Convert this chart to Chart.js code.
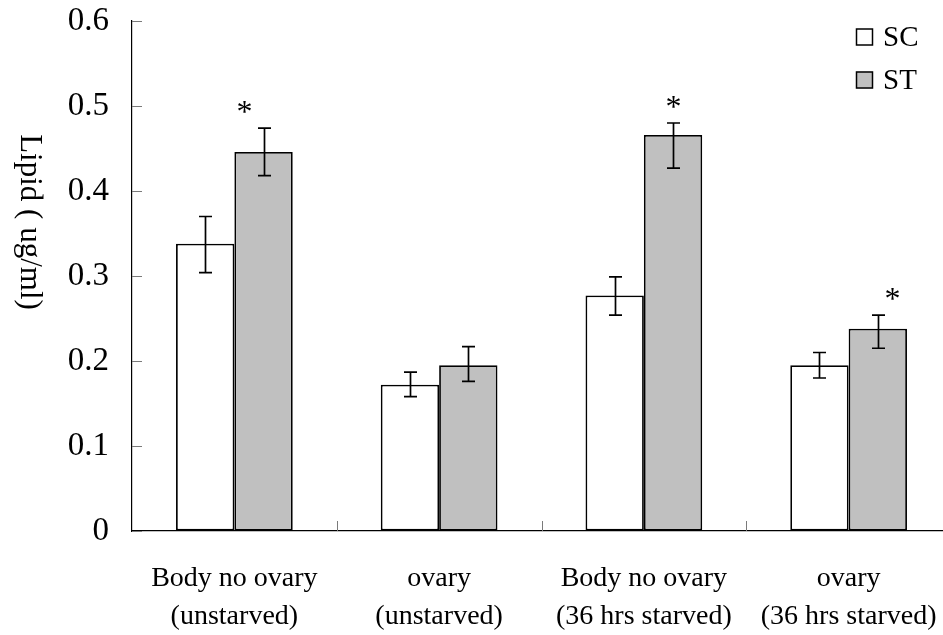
<!DOCTYPE html>
<html>
<head>
<meta charset="utf-8">
<script src="https://cdn.jsdelivr.net/npm/chart.js@4.4.1/dist/chart.umd.min.js"></script>
<style>
  html, body { margin: 0; padding: 0; background: #ffffff; overflow: hidden; }
  #wrap { width: 951px; height: 635px; }
</style>
</head>
<body>
<div id="wrap"><canvas id="c" width="951" height="635"></canvas></div>
<script>
// ---- data ----
const categories = [
  ['Body no ovary', '(unstarved)'],
  ['ovary', '(unstarved)'],
  ['Body no ovary', '(36 hrs starved)'],
  ['ovary', '(36 hrs starved)']
];
const seriesNames = ['SC', 'ST'];
const scValues = [0.338, 0.172, 0.277, 0.195];
const stValues = [0.446, 0.195, 0.466, 0.238];
const scErrPlus  = [0.032, 0.015, 0.022, 0.015];
const scErrMinus = [0.034, 0.014, 0.023, 0.015];
const stErrPlus  = [0.028, 0.022, 0.014, 0.016];
const stErrMinus = [0.028, 0.019, 0.039, 0.023];
const stSignificant = [true, false, true, true];
const yTickValues = [0, 0.1, 0.2, 0.3, 0.4, 0.5, 0.6];
const yTitle = 'Lipid ( ug/ml)';

const FONT = '"Liberation Serif", "Times New Roman", serif';

const errorBarsPlugin = {
  id: 'errorBars',
  afterDatasetsDraw(chart, args, opts) {
    const ctx = chart.ctx;
    const y = chart.scales.y;
    ctx.save();
    ctx.strokeStyle = '#000';
    ctx.lineWidth = 1.7;
    chart.data.datasets.forEach((ds, d) => {
      const meta = chart.getDatasetMeta(d);
      meta.data.forEach((el, i) => {
        const v = ds.data[i];
        const top = y.getPixelForValue(v + ds.errPlus[i]);
        const bot = y.getPixelForValue(v - ds.errMinus[i]);
        const x = Math.round(el.x) + 0.5;
        ctx.beginPath();
        ctx.moveTo(x, top); ctx.lineTo(x, bot);
        ctx.moveTo(x - opts.cap, top); ctx.lineTo(x + opts.cap, top);
        ctx.moveTo(x - opts.cap, bot); ctx.lineTo(x + opts.cap, bot);
        ctx.stroke();
        if (ds.significant && ds.significant[i]) {
          ctx.fillStyle = '#000';
          ctx.font = '32px ' + FONT;
          ctx.textAlign = 'center';
          ctx.textBaseline = 'alphabetic';
          const dx = (opts.starDx && opts.starDx[i]) || 0;
          ctx.fillText('*', x + dx, top - opts.starGap + 18);
        }
      });
    });
    ctx.restore();
  }
};

const innerTicksPlugin = {
  id: 'innerTicks',
  afterDraw(chart) {
    const ctx = chart.ctx;
    const xs = chart.scales.x, ys = chart.scales.y;
    const area = chart.chartArea;
    ctx.save();
    ctx.strokeStyle = '#7a7a7a';
    ctx.lineWidth = 1;
    yTickValues.forEach(v => {
      const py = Math.round(ys.getPixelForValue(v)) + 0.5;
      ctx.beginPath();
      ctx.moveTo(area.left, py); ctx.lineTo(area.left + 10, py);
      ctx.stroke();
    });
    for (let i = 1; i < categories.length; i++) {
      const px = Math.round((xs.getPixelForValue(i - 1) + xs.getPixelForValue(i)) / 2) + 0.5;
      ctx.beginPath();
      ctx.moveTo(px, area.bottom); ctx.lineTo(px, area.bottom - 10);
      ctx.stroke();
    }
    ctx.restore();
  }
};

const sideTitlePlugin = {
  id: 'sideTitle',
  afterDraw(chart, args, opts) {
    const ctx = chart.ctx;
    ctx.save();
    ctx.translate(opts.x, opts.y);
    ctx.rotate(Math.PI / 2);
    ctx.fillStyle = '#000';
    ctx.font = opts.size + 'px ' + FONT;
    ctx.textAlign = 'center';
    ctx.textBaseline = 'middle';
    ctx.fillText(opts.text, 0, 0);
    ctx.restore();
  }
};

const boxLegendPlugin = {
  id: 'boxLegend',
  afterDraw(chart, args, opts) {
    const ctx = chart.ctx;
    ctx.save();
    chart.data.datasets.forEach((ds, d) => {
      const cy = opts.y + d * opts.rowGap;
      ctx.fillStyle = ds.backgroundColor;
      ctx.fillRect(opts.x, cy - opts.box / 2, opts.box, opts.box);
      ctx.strokeStyle = '#000';
      ctx.lineWidth = 1.5;
      ctx.strokeRect(opts.x + 0.5, cy - opts.box / 2 + 0.5, opts.box - 1, opts.box - 1);
      ctx.fillStyle = '#000';
      ctx.font = opts.size + 'px ' + FONT;
      ctx.textAlign = 'left';
      ctx.textBaseline = 'middle';
      ctx.fillText(ds.label, opts.x + opts.box + 10, cy + 1);
    });
    ctx.restore();
  }
};

new Chart(document.getElementById('c'), {
  type: 'bar',
  data: {
    labels: categories,
    datasets: [
      {
        label: seriesNames[0], data: scValues,
        errPlus: scErrPlus, errMinus: scErrMinus,
        backgroundColor: '#ffffff', borderColor: '#000000',
        borderWidth: 1.8, borderSkipped: false,
        categoryPercentage: 0.57, barPercentage: 1.0
      },
      {
        label: seriesNames[1], data: stValues,
        errPlus: stErrPlus, errMinus: stErrMinus, significant: stSignificant,
        backgroundColor: '#c0c0c0', borderColor: '#000000',
        borderWidth: 1.8, borderSkipped: false,
        categoryPercentage: 0.57, barPercentage: 1.0
      }
    ]
  },
  options: {
    responsive: false,
    animation: false,
    devicePixelRatio: 1,
    layout: { padding: { top: 21, right: 0, bottom: 0, left: 0 } },
    plugins: {
      legend: { display: false },
      tooltip: { enabled: false },
      errorBars: { cap: 6.5, starGap: 24, starDx: [-20, 0, 0, 14] },
      sideTitle: { text: yTitle, x: 29, y: 222, size: 31 },
      boxLegend: { x: 856, y: 37, rowGap: 43, box: 17, size: 29 }
    },
    scales: {
      x: {
        grid: { display: true, drawOnChartArea: false, drawTicks: false, offset: true },
        border: { display: true, color: '#000', width: 1.2 },
        ticks: {
          color: '#000', font: { family: FONT, size: 28, lineHeight: 1.34 },
          padding: 29, maxRotation: 0, autoSkip: false
        },
        afterFit(s) { s.height = 104; s.paddingLeft = 0; s.paddingRight = 0; }
      },
      y: {
        min: 0, max: 0.6,
        grid: { display: true, drawOnChartArea: false, drawTicks: false },
        border: { display: true, color: '#000', width: 1.2 },
        afterBuildTicks(s) { s.ticks = yTickValues.map(v => ({ value: v })); },
        ticks: {
          color: '#000', font: { family: FONT, size: 33 }, padding: 23,
          callback: (v) => String(v)
        },
        afterFit(s) { s.width = 132; s.paddingTop = 0; s.paddingBottom = 0; }
      }
    }
  },
  plugins: [errorBarsPlugin, innerTicksPlugin, sideTitlePlugin, boxLegendPlugin]
});
</script>
</body>
</html>
